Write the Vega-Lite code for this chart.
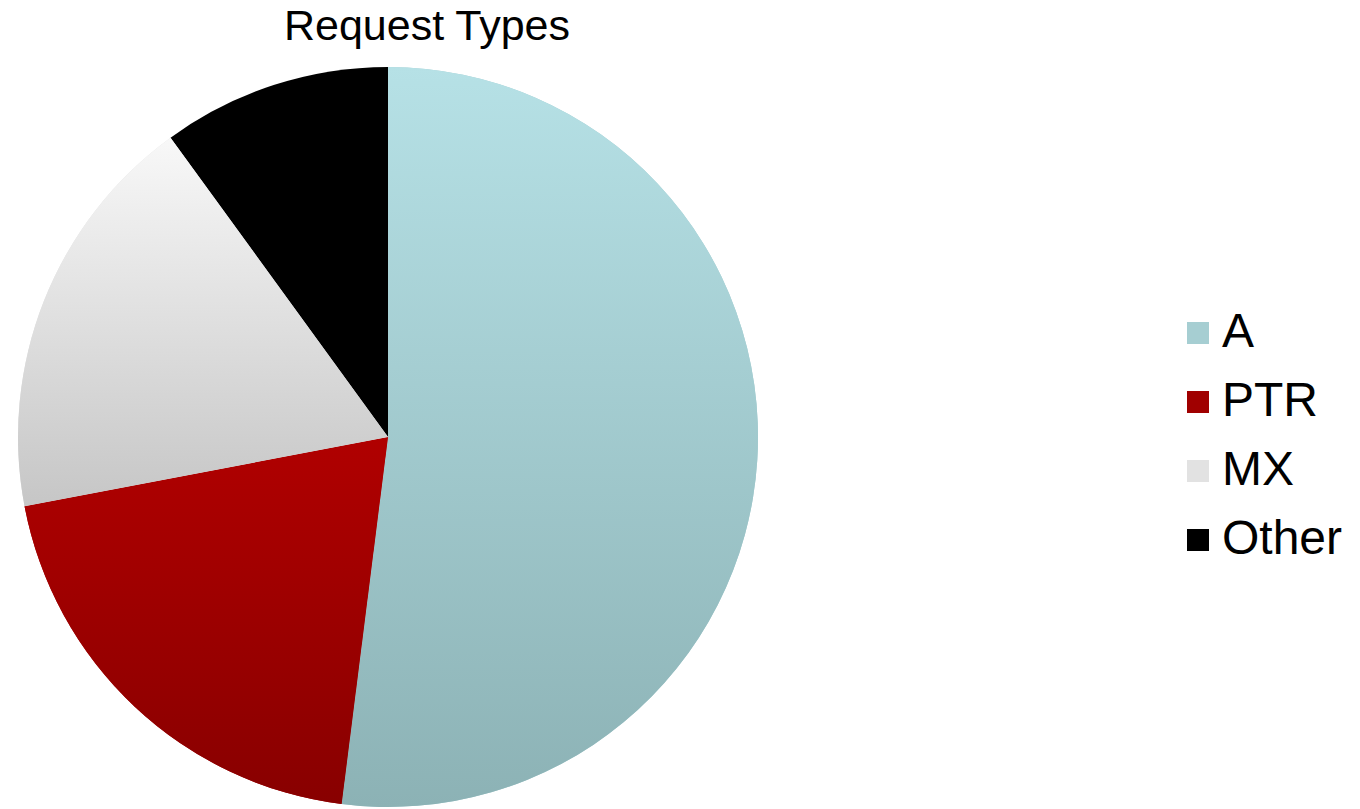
{
  "$schema": "https://vega.github.io/schema/vega-lite/v6.json",
  "autosize": {"type": "none"},
  "width": 740,
  "height": 740,
  "padding": {"left": 18, "top": 67, "right": 602, "bottom": 2},
  "background": "white",
  "title": {
    "text": "Request Types",
    "font": "Liberation Sans",
    "fontSize": 43,
    "fontWeight": "normal",
    "color": "black",
    "anchor": "middle",
    "frame": "group",
    "baseline": "alphabetic",
    "offset": 24,
    "dx": 39,
    "dy": 40
  },
  "data": {
    "values": [
      {"type": "A", "share": 52, "rank": 1},
      {"type": "PTR", "share": 20, "rank": 2},
      {"type": "MX", "share": 18, "rank": 3},
      {"type": "Other", "share": 10, "rank": 4}
    ]
  },
  "layer": [
    {
      "mark": {"type": "arc", "outerRadius": 370, "stroke": null},
      "encoding": {
        "theta": {"field": "share", "type": "quantitative", "stack": true},
        "order": {"field": "rank", "type": "quantitative"},
        "color": {
          "field": "type",
          "type": "nominal",
          "sort": ["A", "PTR", "MX", "Other"],
          "scale": {
            "domain": ["A", "PTR", "MX", "Other"],
            "range": ["#a6ced2", "#a00000", "#e2e2e2", "#000000"]
          },
          "legend": {
            "title": null,
            "orient": "none",
            "legendX": 1156,
            "legendY": 242,
            "padding": 0,
            "symbolType": "square",
            "symbolSize": 484,
            "symbolStrokeWidth": 0,
            "labelFont": "Liberation Sans",
            "labelFontSize": 48,
            "labelColor": "black",
            "labelOffset": 0,
            "rowPadding": 21,
            "labelLimit": 400
          }
        }
      }
    },
    {
      "mark": {"type": "arc", "outerRadius": 370, "stroke": null,
        "fill": {"gradient": "linear", "x1": 0, "y1": 0, "x2": 0, "y2": 1, "stops": [{"offset": 0, "color": "#b6e1e6"}, {"offset": 1, "color": "#8cb2b5"}]}},
      "encoding": {
        "theta": {"field": "share", "type": "quantitative", "stack": true},
        "order": {"field": "rank", "type": "quantitative"},
        "detail": {"field": "type", "type": "nominal"},
        "fillOpacity": {"condition": {"test": "datum.type === 'A'", "value": 1}, "value": 0}
      }
    },
    {
      "mark": {"type": "arc", "outerRadius": 370, "stroke": null,
        "fill": {"gradient": "linear", "x1": 0, "y1": 0, "x2": 0, "y2": 1, "stops": [{"offset": 0, "color": "#b00000"}, {"offset": 1, "color": "#880000"}]}},
      "encoding": {
        "theta": {"field": "share", "type": "quantitative", "stack": true},
        "order": {"field": "rank", "type": "quantitative"},
        "detail": {"field": "type", "type": "nominal"},
        "fillOpacity": {"condition": {"test": "datum.type === 'PTR'", "value": 1}, "value": 0}
      }
    },
    {
      "mark": {"type": "arc", "outerRadius": 370, "stroke": null,
        "fill": {"gradient": "linear", "x1": 0, "y1": 0, "x2": 0, "y2": 1, "stops": [{"offset": 0, "color": "#f8f8f8"}, {"offset": 1, "color": "#c6c6c6"}]}},
      "encoding": {
        "theta": {"field": "share", "type": "quantitative", "stack": true},
        "order": {"field": "rank", "type": "quantitative"},
        "detail": {"field": "type", "type": "nominal"},
        "fillOpacity": {"condition": {"test": "datum.type === 'MX'", "value": 1}, "value": 0}
      }
    }
  ]
}
